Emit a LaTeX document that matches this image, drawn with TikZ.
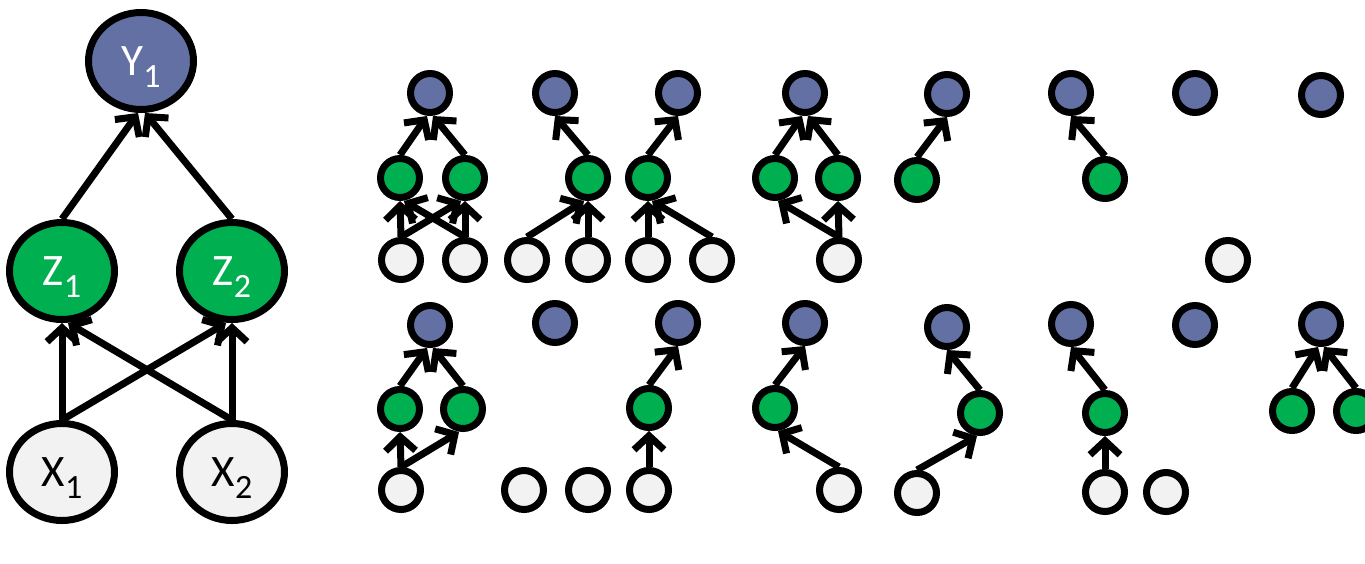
\documentclass[tikz,border=0pt]{standalone}
\usepackage{fontspec}
\setmainfont{Carlito}
\usetikzlibrary{arrows.meta, shapes.geometric}

\definecolor{ynode}{RGB}{99,112,164}
\definecolor{znode}{RGB}{0,176,80}
\definecolor{xnode}{RGB}{242,242,242}

% letter with a lowered index
\newcommand{\varlab}[2]{#1\smash{\raisebox{-12pt}{\fontsize{34}{34}\selectfont #2}}}

\begin{document}
\begin{tikzpicture}[x=1pt, y=-1pt, >={Straight Barb[length=14pt,width=30pt]},
  big/.style={ellipse, draw, line width=7pt, minimum width=105pt, minimum height=97pt, inner sep=0pt, font=\fontsize{45}{45}\selectfont},
  small/.style={circle, draw, line width=7pt, minimum size=39pt, inner sep=0pt},
  yn/.style={fill=ynode, text=white},
  zn/.style={fill=znode, text=white},
  xn/.style={fill=xnode},
  link/.style={->, line width=7pt}]

\useasboundingbox (0,0) rectangle (1365,563);

% full network
\node[big, yn] (Y) at (141,61) {\varlab{Y}{1}};
\node[big, zn] (Z1) at (62,271) {\varlab{Z}{1}};
\node[big, zn] (Z2) at (232,271) {\varlab{Z}{2}};
\node[big, xn] (X1) at (62,472) {\varlab{X}{1}};
\node[big, xn] (X2) at (232,472) {\varlab{X}{2}};

\draw[link] (Z1.north) -- ([xshift=-3pt]Y.south);
\draw[link] (Z2.north) -- ([xshift=4pt]Y.south);
\draw[link] (X1.north) -- (Z1.south);
\draw[link] (X2.north) -- ([xshift=6pt]Z1.south);
\draw[link] (X1.north) -- ([xshift=-6pt]Z2.south);
\draw[link] (X2.north) -- (Z2.south);

% sub-networks, top row
\node[small, yn] (a1y) at (430,93) {};
\node[small, zn] (a1z1) at (400,178) {};
\node[small, zn] (a1z2) at (465,178) {};
\node[small, xn] (a1x1) at (401,260) {};
\node[small, xn] (a1x2) at (465,260) {};
\draw[link] (a1x1.north) -- (a1z1.south);
\draw[link] (a1x2.north) -- ([xshift=4pt]a1z1.south);
\draw[link] (a1x1.north) -- ([xshift=-4pt]a1z2.south);
\draw[link] (a1x2.north) -- (a1z2.south);
\draw[link] (a1z1.north) -- ([xshift=-3pt]a1y.south);
\draw[link] (a1z2.north) -- ([xshift=3pt]a1y.south);

\node[small, yn] (a2y) at (555,93) {};
\node[small, zn] (a2z2) at (588,178) {};
\node[small, xn] (a2x1) at (527,260) {};
\node[small, xn] (a2x2) at (588,260) {};
\draw[link] (a2x1.north) -- ([xshift=-4pt]a2z2.south);
\draw[link] (a2x2.north) -- (a2z2.south);
\draw[link] (a2z2.north) -- (a2y.south);

\node[small, yn] (a3y) at (678,93) {};
\node[small, zn] (a3z1) at (648,178) {};
\node[small, xn] (a3x1) at (648,260) {};
\node[small, xn] (a3x2) at (712,260) {};
\draw[link] (a3x1.north) -- (a3z1.south);
\draw[link] (a3x2.north) -- ([xshift=4pt]a3z1.south);
\draw[link] (a3z1.north) -- (a3y.south);

\node[small, yn] (a4y) at (805,93) {};
\node[small, zn] (a4z1) at (775,178) {};
\node[small, zn] (a4z2) at (838,178) {};
\node[small, xn] (a4x2) at (839,260) {};
\draw[link] (a4x2.north) -- ([xshift=3pt]a4z1.south);
\draw[link] (a4x2.north) -- (a4z2.south);
\draw[link] (a4z1.north) -- ([xshift=-3pt]a4y.south);
\draw[link] (a4z2.north) -- ([xshift=3pt]a4y.south);

\node[small, yn] (a5y) at (947,94) {};
\node[small, zn] (a5z1) at (917,180) {};
\draw[link] (a5z1.north) -- (a5y.south);

\node[small, yn] (a6y) at (1071,93) {};
\node[small, zn] (a6z2) at (1105,179) {};
\draw[link] (a6z2.north) -- (a6y.south);

\node[small, yn] (a7y) at (1195,93) {};
\node[small, xn] (a7x2) at (1228,260) {};

\node[small, yn] (a8y) at (1321,95) {};

% sub-networks, bottom row
\node[small, yn] (b1y) at (430,325) {};
\node[small, zn] (b1z1) at (400,409) {};
\node[small, zn] (b1z2) at (463,409) {};
\node[small, xn] (b1x1) at (401,490) {};
\draw[link] (b1x1.north) -- (b1z1.south);
\draw[link] (b1x1.north) -- ([xshift=-4pt]b1z2.south);
\draw[link] (b1z1.north) -- ([xshift=-3pt]b1y.south);
\draw[link] (b1z2.north) -- ([xshift=3pt]b1y.south);

\node[small, yn] (b2y) at (555,323) {};
\node[small, xn] (b2x1) at (524,490) {};
\node[small, xn] (b2x2) at (588,490) {};

\node[small, yn] (b3y) at (678,323) {};
\node[small, zn] (b3z1) at (649,408) {};
\node[small, xn] (b3x1) at (649,490) {};
\draw[link] (b3x1.north) -- (b3z1.south);
\draw[link] (b3z1.north) -- (b3y.south);

\node[small, yn] (b4y) at (805,323) {};
\node[small, zn] (b4z1) at (775,408) {};
\node[small, xn] (b4x2) at (839,490) {};
\draw[link] (b4x2.north) -- ([xshift=3pt]b4z1.south);
\draw[link] (b4z1.north) -- (b4y.south);

\node[small, yn] (b5y) at (947,327) {};
\node[small, zn] (b5z2) at (980,413) {};
\node[small, xn] (b5x1) at (917,493) {};
\draw[link] (b5x1.north) -- ([xshift=-3pt]b5z2.south);
\draw[link] (b5z2.north) -- (b5y.south);

\node[small, yn] (b6y) at (1071,324) {};
\node[small, zn] (b6z2) at (1105,413) {};
\node[small, xn] (b6x2) at (1105,492) {};
\draw[link] (b6x2.north) -- (b6z2.south);
\draw[link] (b6z2.north) -- (b6y.south);

\node[small, yn] (b7y) at (1195,325) {};
\node[small, xn] (b7x1) at (1166,492) {};

\node[small, yn] (b8y) at (1321,324) {};
\node[small, zn] (b8z1) at (1292,411) {};
\node[small, zn] (b8z2) at (1356,411) {};
\draw[link] (b8z1.north) -- ([xshift=-3pt]b8y.south);
\draw[link] (b8z2.north) -- ([xshift=3pt]b8y.south);

\end{tikzpicture}
\end{document}
